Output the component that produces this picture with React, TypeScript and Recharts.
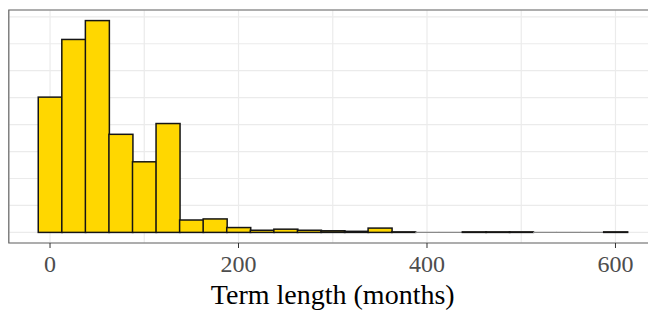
import React from "react";
import {
  ComposedChart,
  Bar,
  XAxis,
  YAxis,
  CartesianGrid,
  ReferenceArea,
} from "recharts";

// histogram bins: 25-month wide, centred on the mids
const binMids = [
  0, 25, 50, 75, 100, 125, 150, 175, 200, 225, 250, 275, 300, 325, 350, 375,
  400, 425, 450, 475, 500, 525, 550, 575, 600,
];
const binCounts = [
  251, 358, 393, 182, 131, 202, 23, 25, 9, 4, 6, 4, 3, 2, 8, 1, 0, 0, 1, 1, 1,
  0, 0, 0, 1,
];

const xTicks = [0, 100, 200, 300, 400, 500, 600];
const xLabels = [0, 200, 400, 600];
const yTicks = [0, 50, 100, 150, 200, 250, 300, 350, 400];

const xDomain = [-43.75, 643.75];
const yDomain = [-19.65, 412.65];

const data = binMids.map((mid, i) => ({ mid, count: binCounts[i] }));

const FONT = '"Liberation Serif", "Times New Roman", serif';

function TermTick(props: any) {
  const { x, y, payload } = props;
  if (!xLabels.includes(payload.value)) return null;
  return (
    <g>
      <line x1={x} x2={x} y1={y} y2={y + 5} stroke="#333" strokeWidth={1} />
      <text
        x={x}
        y={y + 29}
        textAnchor="middle"
        fill="#4d4d4d"
        fontFamily={FONT}
        fontSize={24}
      >
        {payload.value}
      </text>
    </g>
  );
}

function BinShape(props: any) {
  const { x, y, width, height } = props;
  if (height < 0.3) {
    // empty bins still show their outline as a flat line
    return (
      <line
        x1={x}
        x2={x + width}
        y1={y}
        y2={y}
        stroke="#8a8a8a"
        strokeWidth={1.2}
      />
    );
  }
  return (
    <rect
      x={x}
      y={y}
      width={width}
      height={height}
      fill="#FFD700"
      stroke="#151515"
      strokeWidth={1.5}
    />
  );
}

export default function App() {
  return (
    <div
      style={{
        position: "fixed",
        left: 0,
        top: 0,
        width: 648,
        height: 311,
        overflow: "hidden",
        background: "#fff",
      }}
    >
      <ComposedChart
        width={680}
        height={311}
        data={data}
        margin={{ top: 10, right: 23.3, bottom: 0, left: 8.8 }}
        barCategoryGap={0}
        barGap={0}
      >
        <CartesianGrid stroke="#ebebeb" strokeWidth={1.2} />
        <XAxis
          dataKey="mid"
          type="number"
          domain={xDomain}
          ticks={xTicks}
          allowDataOverflow
          axisLine={false}
          tickLine={false}
          tickSize={0}
          tickMargin={0}
          height={68}
          interval={0}
          tick={<TermTick />}
          label={{
            content: (p: any) => {
              const vb = p.viewBox;
              return (
                <text
                  x={vb.x + vb.width / 2}
                  y={vb.y + 61}
                  textAnchor="middle"
                  fill="#000"
                  fontFamily={FONT}
                  fontSize={28}
                >
                  Term length (months)
                </text>
              );
            },
          }}
        />
        <YAxis type="number" domain={yDomain} ticks={yTicks} hide allowDataOverflow />
        <Bar
          dataKey="count"
          isAnimationActive={false}
          shape={<BinShape />}
        />
        <ReferenceArea
          x1={xDomain[0]}
          x2={xDomain[1]}
          y1={yDomain[0]}
          y2={yDomain[1]}
          fill="none"
          fillOpacity={0}
          stroke="#666"
          strokeWidth={1.2}
          ifOverflow="visible"
        />
      </ComposedChart>
    </div>
  );
}
